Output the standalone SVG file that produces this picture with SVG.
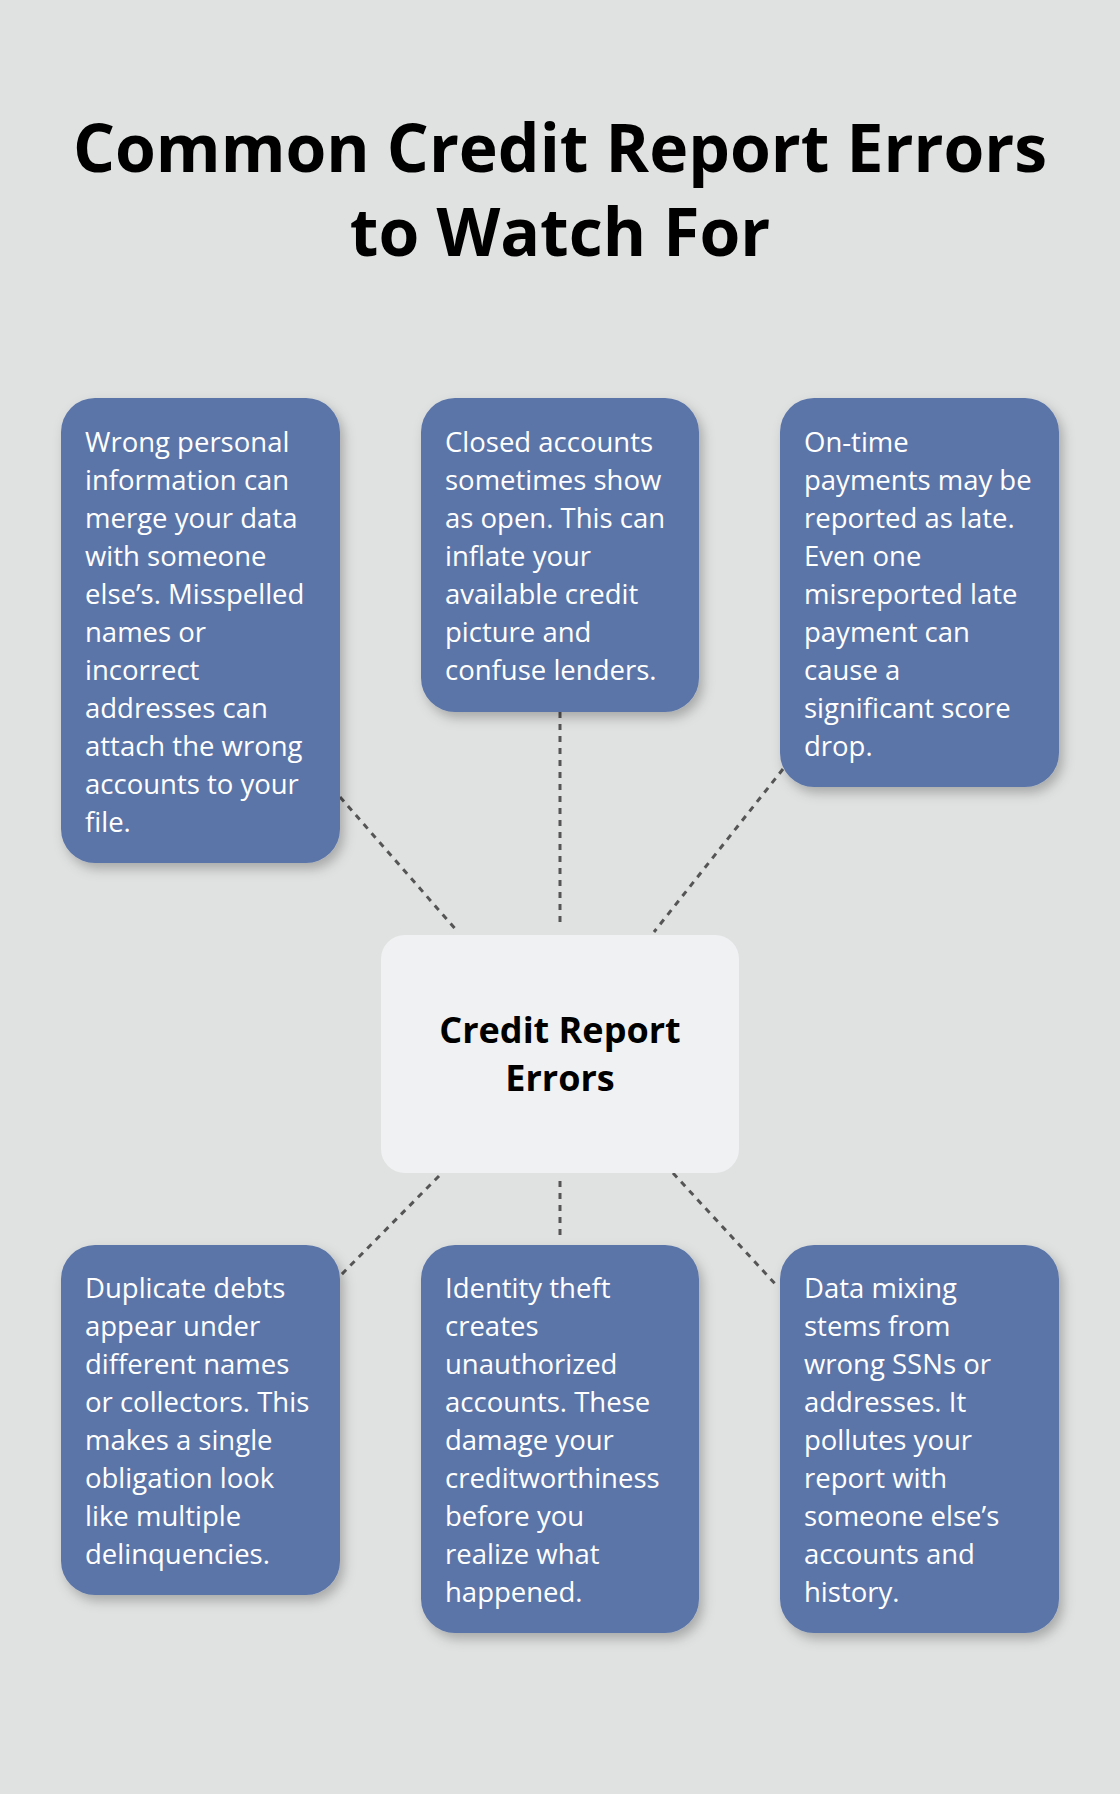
<svg xmlns="http://www.w3.org/2000/svg" width="1120" height="1794" viewBox="0 0 1120 1794">
<defs>
<filter id="sh" x="-20%" y="-20%" width="140%" height="140%"><feDropShadow dx="4" dy="6" stdDeviation="6" flood-color="#000" flood-opacity="0.25"/></filter>
<style>
.b{fill:#5b75a8;filter:url(#sh)}
.t{font-family:"Open Sans","Noto Sans",sans-serif;font-size:27.5px;fill:#fff}
.c{stroke:#555;stroke-width:3;stroke-dasharray:6 6;fill:none}
</style>
</defs>
<rect width="1120" height="1794" fill="#e0e2e1"/>
<g id="title" font-family="'Open Sans','Noto Sans',sans-serif" font-weight="bold" font-size="66" text-anchor="middle" fill="#000">
<text x="560" y="172">Common Credit Report Errors</text>
<text x="560" y="256">to Watch For</text>
</g>
<g id="connectors">
<line class="c" x1="340" y1="797" x2="458" y2="932"/>
<line class="c" x1="560" y1="712" x2="560" y2="927"/>
<line class="c" x1="783" y1="769" x2="654" y2="932"/>
<line class="c" x1="439" y1="1176" x2="340" y2="1276"/>
<line class="c" x1="560" y1="1181" x2="560" y2="1238"/>
<line class="c" x1="673" y1="1173" x2="778" y2="1287"/>
</g>
<g id="center">
<rect x="381" y="935" width="358" height="238" rx="24" fill="#f0f1f3"/>
<text x="560" y="1043" text-anchor="middle" font-family="'Open Sans','Noto Sans',sans-serif" font-weight="bold" font-size="36">Credit Report</text>
<text x="560" y="1091" text-anchor="middle" font-family="'Open Sans','Noto Sans',sans-serif" font-weight="bold" font-size="36">Errors</text>
</g>
<g id="n1"><rect class="b" x="61" y="398" width="279" height="465" rx="34"/>
<text class="t"><tspan x="85" y="452">Wrong personal</tspan><tspan x="85" y="490">information can</tspan><tspan x="85" y="528">merge your data</tspan><tspan x="85" y="566">with someone</tspan><tspan x="85" y="604">else’s. Misspelled</tspan><tspan x="85" y="642">names or</tspan><tspan x="85" y="680">incorrect</tspan><tspan x="85" y="718">addresses can</tspan><tspan x="85" y="756">attach the wrong</tspan><tspan x="85" y="794">accounts to your</tspan><tspan x="85" y="832">file.</tspan></text></g>
<g id="n2"><rect class="b" x="421" y="398" width="278" height="314" rx="34"/>
<text class="t"><tspan x="445" y="452">Closed accounts</tspan><tspan x="445" y="490">sometimes show</tspan><tspan x="445" y="528">as open. This can</tspan><tspan x="445" y="566">inflate your</tspan><tspan x="445" y="604">available credit</tspan><tspan x="445" y="642">picture and</tspan><tspan x="445" y="680">confuse lenders.</tspan></text></g>
<g id="n3"><rect class="b" x="780" y="398" width="279" height="389" rx="34"/>
<text class="t"><tspan x="804" y="452">On-time</tspan><tspan x="804" y="490">payments may be</tspan><tspan x="804" y="528">reported as late.</tspan><tspan x="804" y="566">Even one</tspan><tspan x="804" y="604">misreported late</tspan><tspan x="804" y="642">payment can</tspan><tspan x="804" y="680">cause a</tspan><tspan x="804" y="718">significant score</tspan><tspan x="804" y="756">drop.</tspan></text></g>
<g id="n4"><rect class="b" x="61" y="1245" width="279" height="350" rx="34"/>
<text class="t"><tspan x="85" y="1298">Duplicate debts</tspan><tspan x="85" y="1336">appear under</tspan><tspan x="85" y="1374">different names</tspan><tspan x="85" y="1412">or collectors. This</tspan><tspan x="85" y="1450">makes a single</tspan><tspan x="85" y="1488">obligation look</tspan><tspan x="85" y="1526">like multiple</tspan><tspan x="85" y="1564">delinquencies.</tspan></text></g>
<g id="n5"><rect class="b" x="421" y="1245" width="278" height="388" rx="34"/>
<text class="t"><tspan x="445" y="1298">Identity theft</tspan><tspan x="445" y="1336">creates</tspan><tspan x="445" y="1374">unauthorized</tspan><tspan x="445" y="1412">accounts. These</tspan><tspan x="445" y="1450">damage your</tspan><tspan x="445" y="1488">creditworthiness</tspan><tspan x="445" y="1526">before you</tspan><tspan x="445" y="1564">realize what</tspan><tspan x="445" y="1602">happened.</tspan></text></g>
<g id="n6"><rect class="b" x="780" y="1245" width="279" height="388" rx="34"/>
<text class="t"><tspan x="804" y="1298">Data mixing</tspan><tspan x="804" y="1336">stems from</tspan><tspan x="804" y="1374">wrong SSNs or</tspan><tspan x="804" y="1412">addresses. It</tspan><tspan x="804" y="1450">pollutes your</tspan><tspan x="804" y="1488">report with</tspan><tspan x="804" y="1526">someone else’s</tspan><tspan x="804" y="1564">accounts and</tspan><tspan x="804" y="1602">history.</tspan></text></g>
</svg>
